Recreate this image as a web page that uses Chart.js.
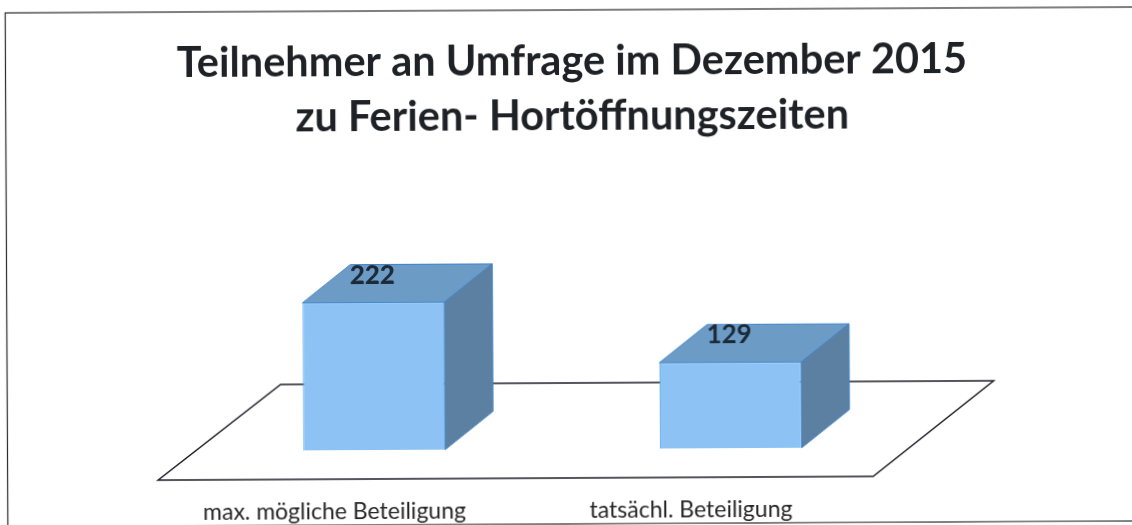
<!DOCTYPE html>
<html><head><meta charset="utf-8">
<style>
html,body{margin:0;padding:0;background:#fff;width:1132px;height:525px;overflow:hidden}
#wrap{width:1146px;height:525px;transform:rotate(-0.3deg);transform-origin:566px 262px}
canvas{display:block}
</style>
<script src="https://cdn.jsdelivr.net/npm/chart.js@4"></script>
</head><body><div id="wrap"><canvas id="c" width="1146" height="525"></canvas></div>
<script>
const titleLines = ["Teilnehmer an Umfrage im Dezember 2015", "zu Ferien- Hortöffnungszeiten"];
const categories = ["max. mögliche Beteiligung", "tatsächl. Beteiligung"];
const values = [222, 129];
const valueFontWeights = ["900", "bold"];
const depth = {x: 48, y: 38};
const FONT = 'Lato, "Open Sans", sans-serif';

const bars3d = {
  id: 'bars3d',
  beforeDatasetsDraw(chart) {
    const ctx = chart.ctx, a = chart.chartArea;
    ctx.save();
    // frame
    ctx.strokeStyle = '#2a2a2a'; ctx.lineWidth = 1.2;
    ctx.strokeRect(6.5, 10, 1300, 514);
    // floor
    const yb = a.bottom;
    ctx.strokeStyle = '#1f1f2a'; ctx.lineWidth = 1.5;
    ctx.beginPath();
    ctx.moveTo(a.left - 38, yb + 29);
    ctx.lineTo(a.right - 36, yb + 29);
    ctx.lineTo(a.right + 85, yb - 66);
    ctx.lineTo(a.left + 85, yb - 66);
    ctx.closePath(); ctx.stroke();
    // depth faces
    chart.getDatasetMeta(0).data.forEach(el => {
      const l = el.x - el.width / 2, r = el.x + el.width / 2, t = el.y, b = el.base;
      ctx.strokeStyle = '#3f82c8'; ctx.lineWidth = 1;
      ctx.fillStyle = '#6c9cc6';
      ctx.beginPath();
      ctx.moveTo(l, t); ctx.lineTo(r, t); ctx.lineTo(r + depth.x, t - depth.y); ctx.lineTo(l + depth.x, t - depth.y);
      ctx.closePath(); ctx.fill(); ctx.stroke();
      ctx.fillStyle = '#5c80a2';
      ctx.beginPath();
      ctx.moveTo(r, t); ctx.lineTo(r + depth.x, t - depth.y); ctx.lineTo(r + depth.x, b - depth.y); ctx.lineTo(r, b);
      ctx.closePath(); ctx.fill(); ctx.stroke();
    });
    ctx.restore();
  },
  afterDatasetsDraw(chart) {
    const ctx = chart.ctx;
    ctx.save();
    ctx.textAlign = 'center';
    ctx.textBaseline = 'alphabetic';
    chart.getDatasetMeta(0).data.forEach((el, i) => {
      ctx.fillStyle = '#1c2a38';
      ctx.font = valueFontWeights[i] + ' 26px ' + FONT;
      ctx.fillText(String(values[i]), el.x - 1, el.y - 19);
    });
    ctx.restore();
  }
};

new Chart(document.getElementById('c'), {
  type: 'bar',
  data: {labels: categories, datasets: [{
    data: values,
    backgroundColor: '#8cc3f4',
    borderColor: '#5a9fe0',
    borderWidth: 1,
    barPercentage: 0.398,
    categoryPercentage: 1
  }]},
  plugins: [bars3d],
  options: {
    responsive: false,
    animation: false,
    layout: {padding: 0},
    plugins: {
      legend: {display: false},
      tooltip: {enabled: false},
      title: {
        display: true,
        text: titleLines,
        color: '#1e2226',
        font: {family: FONT, size: 41.5, weight: 'bold', lineHeight: 1.325},
        padding: {top: 34, bottom: 20}
      }
    },
    scales: {
      x: {
        grid: {display: false, drawTicks: false},
        border: {display: false},
        ticks: {display: true, color: '#262626', font: {family: FONT, size: 23}, padding: 48, labelOffset: -40, maxRotation: 0, autoSkip: false},
        afterFit(s) { s.height = 76; }
      },
      y: {
        position: 'left', min: 0, max: 429,
        grid: {display: false, drawTicks: false},
        border: {display: false},
        ticks: {display: false},
        afterFit(s) { s.width = 195; }
      },
      ySpacer: {
        position: 'right', min: 0, max: 429,
        grid: {display: false, drawTicks: false},
        border: {display: false},
        ticks: {display: false},
        afterFit(s) { s.width = 238; }
      }
    }
  }
});
</script></body></html>
